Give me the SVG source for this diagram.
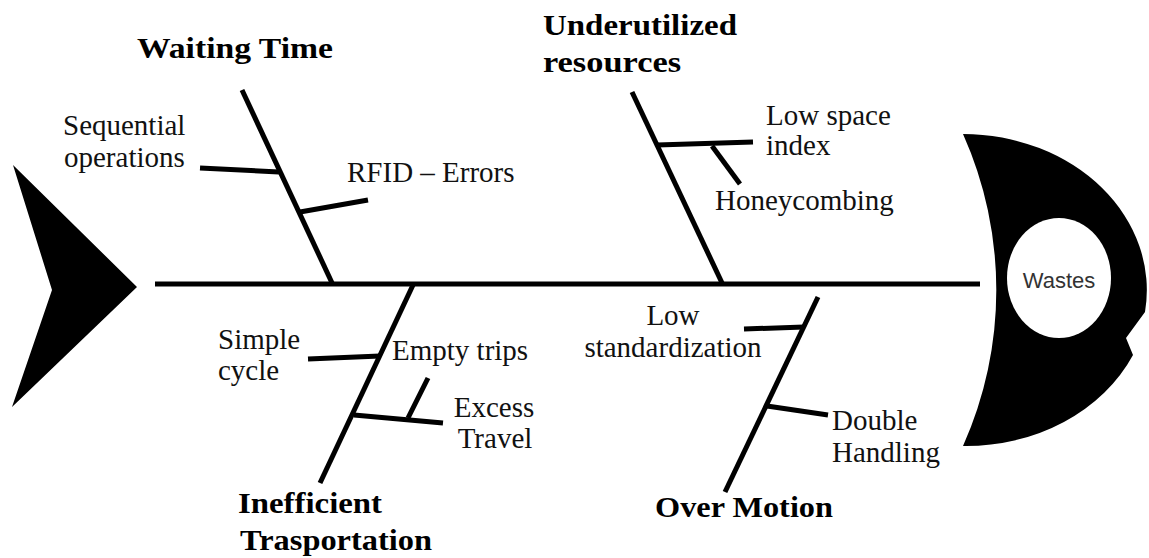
<svg xmlns="http://www.w3.org/2000/svg" width="1149" height="558" viewBox="0 0 1149 558">
  <style>
    .bone { stroke: #000; stroke-width: 5; fill: none; stroke-linecap: butt; }
    .lbl { font-family: "Liberation Serif", serif; font-size: 29px; fill: #111; }
    .ttl { font-family: "Liberation Serif", serif; font-size: 29px; font-weight: bold; fill: #000; }
    .head-lbl { font-family: "Liberation Sans", Arial, sans-serif; font-size: 22px; fill: #333; }
  </style>
  <rect width="1149" height="558" fill="#fff"/>

  <g id="tail">
    <polygon points="13,165 137,287 12,407 52,290" fill="#000"/>
  </g>

  <g id="head">
    <path d="M 963,134 A 184 156 0 0 1 1145,312 L 1126,338 L 1133,355 A 184 156 0 0 1 963,446 A 382 382 0 0 0 963,134 Z" fill="#000"/>
    <ellipse cx="1059" cy="278" rx="52" ry="60" fill="#fff"/>
    <text class="head-lbl" x="1059" y="288" text-anchor="middle">Wastes</text>
  </g>

  <g id="connectors">
    <line class="bone" x1="155" y1="284" x2="980" y2="284"/>
    <!-- Waiting Time -->
    <line class="bone" x1="242" y1="90" x2="333" y2="285"/>
    <line class="bone" x1="200" y1="168" x2="279" y2="172"/>
    <line class="bone" x1="300" y1="212" x2="368" y2="200"/>
    <!-- Underutilized resources -->
    <line class="bone" x1="632" y1="92" x2="723" y2="285"/>
    <line class="bone" x1="657" y1="145" x2="753" y2="142"/>
    <line class="bone" x1="712" y1="146" x2="740" y2="184"/>
    <!-- Inefficient Trasportation -->
    <line class="bone" x1="413" y1="285" x2="320" y2="483"/>
    <line class="bone" x1="308" y1="359" x2="380" y2="356"/>
    <line class="bone" x1="354" y1="415" x2="443" y2="423"/>
    <line class="bone" x1="408" y1="418" x2="428" y2="378"/>
    <!-- Over Motion -->
    <line class="bone" x1="818" y1="297" x2="725" y2="492"/>
    <line class="bone" x1="744" y1="329" x2="804" y2="327"/>
    <line class="bone" x1="767" y1="406" x2="828" y2="415"/>
  </g>

  <g id="waiting-time">
    <text class="ttl" x="137" y="58" textLength="196" lengthAdjust="spacingAndGlyphs">Waiting Time</text>
  </g>
  <g id="sequential-operations">
    <text class="lbl" x="63" y="135">Sequential</text>
    <text class="lbl" x="64" y="167">operations</text>
  </g>
  <g id="rfid-errors">
    <text class="lbl" x="347" y="182">RFID – Errors</text>
  </g>

  <g id="underutilized-resources">
    <text class="ttl" x="543" y="35" textLength="194" lengthAdjust="spacingAndGlyphs">Underutilized</text>
    <text class="ttl" x="543" y="72" textLength="138" lengthAdjust="spacingAndGlyphs">resources</text>
  </g>
  <g id="low-space-index">
    <text class="lbl" x="766" y="125">Low space</text>
    <text class="lbl" x="766" y="155">index</text>
  </g>
  <g id="honeycombing">
    <text class="lbl" x="715" y="210">Honeycombing</text>
  </g>

  <g id="simple-cycle">
    <text class="lbl" x="218" y="349">Simple</text>
    <text class="lbl" x="218" y="380">cycle</text>
  </g>
  <g id="empty-trips">
    <text class="lbl" x="392" y="360">Empty trips</text>
  </g>
  <g id="excess-travel">
    <text class="lbl" x="494" y="417" text-anchor="middle">Excess</text>
    <text class="lbl" x="495" y="448" text-anchor="middle">Travel</text>
  </g>
  <g id="inefficient-trasportation">
    <text class="ttl" x="238" y="513" textLength="144" lengthAdjust="spacingAndGlyphs">Inefficient</text>
    <text class="ttl" x="240" y="550" textLength="192" lengthAdjust="spacingAndGlyphs">Trasportation</text>
  </g>

  <g id="low-standardization">
    <text class="lbl" x="673" y="325" text-anchor="middle">Low</text>
    <text class="lbl" x="673" y="357" text-anchor="middle">standardization</text>
  </g>
  <g id="double-handling">
    <text class="lbl" x="832" y="430">Double</text>
    <text class="lbl" x="832" y="462">Handling</text>
  </g>
  <g id="over-motion">
    <text class="ttl" x="655" y="517" textLength="178" lengthAdjust="spacingAndGlyphs">Over Motion</text>
  </g>
</svg>
